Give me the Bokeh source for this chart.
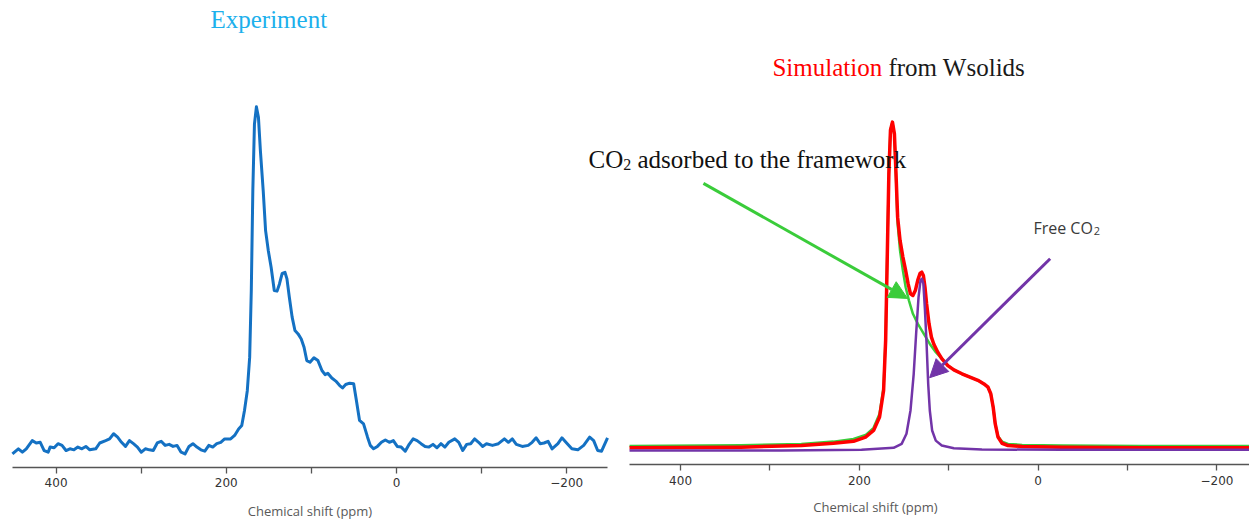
from bokeh.plotting import figure
from bokeh.models import Range1d, LinearAxis, FixedTicker, Label, Arrow, NormalHead
from bokeh.embed import file_html
from bokeh.resources import INLINE

# --- Experimental 13C NMR spectrum of adsorbed CO2 (ppm, normalised intensity) ---
exp_ppm = [451.3, 444.3, 439.6, 435.0, 428.0, 423.3, 418.6, 414.0, 409.3, 407.0, 402.3, 397.7,
           393.0, 388.3, 383.7, 379.0, 374.4, 369.7, 365.0, 360.4, 353.4, 348.7, 341.7, 337.1,
           332.4, 327.7, 323.1, 318.4, 313.8, 309.1, 304.4, 299.8, 295.1, 290.4, 285.8, 281.1,
           276.5, 271.8, 267.1, 262.5, 257.8, 253.1, 248.5, 243.8, 239.2, 234.5, 229.8, 225.2,
           220.5, 215.9, 211.2, 206.5, 201.9, 194.9, 190.2, 185.5, 181.8, 178.6, 175.3, 172.5,
           170.6, 168.8, 166.9, 164.6, 162.2, 159.9, 156.6, 153.8, 150.6, 147.3, 143.6, 140.3,
           137.5, 134.3, 131.0, 128.7, 125.9, 122.6, 119.3, 115.6, 111.9, 108.6, 105.4, 101.6,
           97.0, 92.3, 87.6, 83.9, 80.7, 76.0, 71.3, 66.7, 63.4, 59.7, 55.0, 50.3, 47.1, 43.4,
           38.7, 34.0, 30.8, 27.0, 22.4, 17.7, 13.1, 8.4, 3.7, -0.9, -5.6, -10.3, -14.9, -19.6,
           -24.2, -28.9, -33.6, -38.2, -42.9, -47.6, -52.2, -56.9, -61.5, -68.5, -73.2, -77.9,
           -82.5, -87.2, -91.8, -96.5, -101.2, -105.8, -112.8, -119.8, -126.8, -131.5, -136.1,
           -140.8, -147.8, -154.8, -159.4, -164.1, -168.8, -173.4, -178.1, -182.8, -189.7,
           -194.4, -199.1, -206.1, -213.1, -220.0, -227.0, -231.7, -236.4, -241.0, -248.0]
exp_int = [-1.5, 0.0, -1.0, 0.0, 2.4, 1.7, 1.9, -0.5, -1.0, 0.5, 0.3, 1.5,
           1.0, -0.5, 0.0, -0.3, 0.5, 0.0, 0.7, -0.3, 0.0, 1.7, 2.4, 2.9,
           4.4, 3.4, 1.9, 0.7, 2.4, 1.5, 0.5, -1.0, 0.0, -0.3, -0.5, 1.7,
           2.2, 1.0, 1.3, 0.7, 1.0, -1.0, -1.5, 0.7, 1.5, 0.5, -0.3, -0.7,
           1.0, 0.5, 1.5, 1.9, 2.9, 2.9, 3.9, 5.8, 6.8, 11.2, 17.0, 26.8,
           46.3, 75.5, 94.9, 100.0, 96.9, 87.1, 75.5, 63.8, 57.9, 53.1, 46.3, 46.1,
           48.2, 51.3, 51.6, 49.7, 44.3, 38.5, 34.6, 33.6, 32.1, 29.7, 25.8, 25.3,
           26.6, 25.8, 22.9, 21.7, 22.1, 20.7, 19.8, 18.5, 17.8, 18.8, 19.2, 19.0, 14.1, 8.3,
           7.3, 3.4, 1.0, 0.0, 0.7, 1.9, 2.6, 1.9, 2.4, 0.7, 0.5, -0.7, 1.3, 2.9,
           2.4, 1.5, 0.7, 0.5, 1.3, 0.3, 1.5, 0.5, 1.9, 2.9, 1.9, -0.5,
           1.3, 1.5, 2.9, 1.9, 0.7, 1.5, 1.0, 1.5, 2.9, 1.9, 2.9,
           1.3, 0.7, 1.0, 1.9, 3.2, 1.5, 1.7, 2.2, 0.0, 1.5,
           3.2, 1.9, 0.0, -0.3, 1.0, 3.4, 2.4, -0.5, -0.7, 3.2]

# --- WSolids simulation: total lineshape ---
sim_total_ppm = [457.1, 332.3, 264.9, 229.0, 206.6, 193.1, 184.1, 177.4, 172.9, 170.6, 168.8,
                 167.0, 165.2, 163.0, 160.8, 159.0, 157.2, 154.5, 151.3, 148.2, 145.5, 142.8,
                 140.1, 137.4, 134.7, 132.0, 130.2, 128.4, 126.6, 124.8, 122.1, 119.4, 116.8,
                 112.3, 107.8, 101.0, 94.3, 85.3, 76.3, 67.4, 60.6, 56.1, 53.0, 50.3, 48.0,
                 44.9, 40.4, 33.7, 18.0, -26.9, -116.7, -237.1]
sim_total_int = [0.6, 0.8, 1.3, 2.0, 2.6, 3.9, 5.9, 10.0, 18.1, 33.4, 58.8,
                 84.2, 97.5, 100.0, 96.4, 84.2, 71.0, 63.9, 58.8, 54.7, 50.7, 47.6,
                 47.1, 48.6, 51.7, 53.9, 54.2, 53.2, 49.6, 44.6, 38.5, 34.4, 32.3,
                 29.8, 27.8, 25.7, 24.4, 23.2, 22.2, 21.2, 20.1, 19.1, 17.1, 13.0, 7.9,
                 3.9, 2.0, 1.3, 1.0, 0.8, 0.6, 0.6]

# --- CO2 adsorbed to the framework (component) ---
sim_frame_ppm = [457.1, 332.3, 264.9, 229.0, 206.6, 193.1, 184.1, 177.4, 172.9, 170.6, 168.8,
                 167.0, 165.2, 163.0, 160.8, 159.0, 157.2, 154.5, 151.3, 148.2, 144.6, 140.1,
                 134.7, 127.9, 121.2, 114.5, 107.8, 101.0, 94.3, 85.3, 76.3, 67.4, 60.6, 56.1,
                 53.0, 50.3, 48.0, 44.9, 40.4, 33.7, 18.0, -26.9, -116.7, -237.1]
sim_frame_int = [1.2, 1.4, 1.8, 2.5, 3.3, 4.5, 6.7, 11.0, 19.1, 34.4, 59.8,
                 84.7, 97.7, 100.0, 95.9, 83.2, 69.0, 60.8, 54.7, 49.6, 45.6, 41.5,
                 38.5, 35.4, 32.3, 29.8, 27.8, 25.7, 24.4, 23.2, 22.2, 21.2, 20.1, 19.1,
                 17.1, 13.0, 7.9, 4.1, 2.5, 1.8, 1.5, 1.3, 1.2, 1.2]

# --- Free CO2 (component) ---
sim_free_ppm = [457.1, 287.4, 197.6, 161.7, 152.7, 147.3, 142.8, 139.2, 136.5, 133.8, 131.6,
                130.2, 128.4, 126.6, 124.8, 123.0, 121.2, 118.6, 114.5, 107.8, 94.3, 62.9,
                -26.9, -237.1]
sim_free_int = [-0.2, -0.2, 0.0, 0.6, 1.8, 4.9, 12.0, 23.2, 35.4, 46.6, 51.7,
                52.2, 50.7, 42.5, 32.3, 20.1, 12.0, 5.9, 2.8, 1.3, 0.5, 0.1,
                0.0, 0.0]

tick_values = [400, 200, 0, -200]
tick_labels = ["400", "200", "0", "\u2212200"]
minor_tick_values = [300, 100, -100]

BLUE = "#1471c3"
RED = "#ff0000"
GREEN = "#3acc3a"
PURPLE = "#7234a8"

# One canvas holds both panels; the default ranges belong to the simulation panel,
# the extra "exp" ranges to the experimental panel on the left.
p = figure(width=1249, height=520, output_backend="svg", toolbar_location=None,
           x_axis_location=None, y_axis_location=None,
           x_range=Range1d(1160.7, -236.4), y_range=Range1d(-21.57, 137.1),
           min_border=0, outline_line_color=None,
           background_fill_color="white", border_fill_color="white")
p.extra_x_ranges = {"exp": Range1d(465.3, -1002.35)}
p.extra_y_ranges = {"exp": Range1d(-20.96, 131.08)}
p.xgrid.visible = False
p.ygrid.visible = False


def style_axis(ax):
    ax.ticker = FixedTicker(ticks=tick_values, minor_ticks=minor_tick_values)
    ax.major_label_overrides = dict(zip(tick_values, tick_labels))
    ax.axis_line_color = "#555555"
    ax.axis_line_width = 1.3
    ax.major_tick_line_color = "#555555"
    ax.minor_tick_line_color = "#555555"
    ax.major_tick_line_width = 1.3
    ax.minor_tick_line_width = 1.3
    ax.major_tick_in = 0
    ax.major_tick_out = 6
    ax.minor_tick_in = 0
    ax.minor_tick_out = 6
    ax.major_label_text_font = "DejaVu Sans"
    ax.major_label_text_font_size = "12px"
    ax.major_label_text_color = "#333333"
    ax.major_label_standoff = 5
    ax.axis_label_text_font = "Open Sans"
    ax.axis_label_text_font_size = "13px"
    ax.axis_label_text_font_style = "normal"
    ax.axis_label_text_color = "#595959"
    ax.axis_label_standoff = 11


ax_exp = LinearAxis(x_range_name="exp", y_range_name="exp", fixed_location=-5.32,
                    bounds=(-248.0, 451.2), axis_label="Chemical shift (ppm)")
style_axis(ax_exp)
p.add_layout(ax_exp, "below")

ax_sim = LinearAxis(fixed_location=-4.58, bounds=(-236.4, 457.2))
style_axis(ax_sim)
p.add_layout(ax_sim, "below")

# Experimental spectrum
p.line(exp_ppm, exp_int, x_range_name="exp", y_range_name="exp",
       line_color=BLUE, line_width=3, line_join="round")

# Simulated lineshapes
p.line(sim_frame_ppm, sim_frame_int, line_color=GREEN, line_width=2.5, line_join="round")
p.line(sim_total_ppm, sim_total_int, line_color=RED, line_width=3.5, line_join="round")
p.line(sim_free_ppm, sim_free_int, line_color=PURPLE, line_width=2.5, line_join="round")

serif = "Liberation Serif"

p.add_layout(Label(x=218.6, y=125.4, x_range_name="exp", y_range_name="exp",
                   text="Experiment", text_font=serif, text_font_size="25px",
                   text_color="#1cb0ec", text_baseline="alphabetic", text_align="left"))

p.add_layout(Label(x=297.2, y=116.6, text="Simulation", text_font=serif,
                   text_font_size="25px", text_color=RED, text_baseline="alphabetic"))
p.add_layout(Label(x=297.2, y=116.6, x_offset=116, text="from Wsolids", text_font=serif,
                   text_font_size="25px", text_color="#1a1a1a", text_baseline="alphabetic"))

p.add_layout(Label(x=503.0, y=88.5, text="CO", text_font=serif, text_font_size="25px",
                   text_color="#111111", text_baseline="alphabetic"))
p.add_layout(Label(x=503.0, y=88.5, x_offset=34.7, y_offset=-5, text="2", text_font=serif,
                   text_font_size="16px", text_color="#111111", text_baseline="alphabetic"))
p.add_layout(Label(x=503.0, y=88.5, x_offset=49, text="adsorbed to the framework",
                   text_font=serif, text_font_size="25px", text_color="#111111",
                   text_baseline="alphabetic"))

p.add_layout(Label(x=5.3, y=67.8, text="Free CO", text_font="Open Sans",
                   text_font_size="16px", text_color="#3a3a3a", text_baseline="alphabetic"))
p.add_layout(Label(x=5.3, y=67.8, x_offset=60.3, y_offset=-3, text="2", text_font="Open Sans",
                   text_font_size="11px", text_color="#3a3a3a", text_baseline="alphabetic"))

p.add_layout(Label(x=182.0, y=-17.6, text="Chemical shift (ppm)", text_font="Open Sans",
                   text_font_size="13px", text_color="#595959", text_align="center",
                   text_baseline="middle"))

# Annotation arrows
p.add_layout(Arrow(x_start=374.4, y_start=81.3, x_end=146.2, y_end=46.2,
                   line_color=GREEN, line_width=3,
                   end=NormalHead(size=18, fill_color=GREEN, line_color=GREEN)))
p.add_layout(Arrow(x_start=-13.4, y_start=58.3, x_end=121.4, y_end=22.0,
                   line_color=PURPLE, line_width=3,
                   end=NormalHead(size=18, fill_color=PURPLE, line_color=PURPLE)))

open("out.html", "w").write(file_html(p, INLINE))
